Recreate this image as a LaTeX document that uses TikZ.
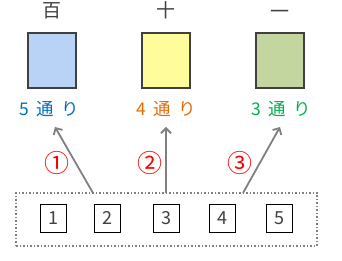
\documentclass[tikz,border=0pt]{standalone}
\usepackage{fontspec}
\setmainfont{Noto Sans CJK JP}
\usepackage{tikz}
\usetikzlibrary{arrows.meta, positioning}

\definecolor{boxgray}{RGB}{64,64,64}
\definecolor{arrowgray}{RGB}{128,128,128}
\definecolor{hblue}{RGB}{184,211,246}
\definecolor{hyellow}{RGB}{255,252,155}
\definecolor{hgreen}{RGB}{196,214,160}
\definecolor{tblue}{RGB}{0,112,192}
\definecolor{torange}{RGB}{228,108,10}
\definecolor{tgreen}{RGB}{0,176,80}

\newcommand{\gap}{\hspace{0.42em}}

\begin{document}
\begin{tikzpicture}[x=1pt, y=1pt, every node/.style={inner sep=0pt, outer sep=0pt}]
    % Define styles for the blocks
    \tikzstyle{place} = [rectangle, minimum width=48pt, minimum height=55pt, draw=boxgray, line width=1.6pt]
    \tikzstyle{head} = [font=\fontsize{19}{19}\selectfont, text=boxgray]
    \tikzstyle{count} = [font=\fontsize{17.5}{17.5}\selectfont]
    \tikzstyle{card} = [rectangle, minimum width=26pt, minimum height=28pt, draw=black, line width=0.9pt, font=\fontsize{18}{18}\selectfont, text=boxgray]
    \tikzstyle{circmark} = [font=\fontsize{25}{25}\selectfont, text=red]
    \tikzstyle{arrow} = [arrowgray, line width=1.8pt, -{Straight Barb[length=5pt, width=10pt]}]

    \useasboundingbox (0,0) rectangle (342,261);

    % Define the three places
    \node (hundreds) [place, fill=hblue] at (52,200.5) {};
    \node (tens) [place, fill=hyellow] at (166,200.5) {};
    \node (ones) [place, fill=hgreen] at (280,200.5) {};

    \node (hundredslabel) [head, above=14pt of hundreds] {百};
    \node (tenslabel) [head, above=14pt of tens] {十};
    \node (oneslabel) [head, above=14pt of ones] {一};

    \node (hundredscount) [count, text=tblue, below=13.5pt of hundreds, xshift=-3pt] {5\gap 通\gap り};
    \node (tenscount) [count, text=torange, below=13.5pt of tens] {4\gap 通\gap り};
    \node (onescount) [count, text=tgreen, below=13.5pt of ones, xshift=1.5pt] {3\gap 通\gap り};

    % Define the cards
    \node (c1) [card] at (53,43) {1};
    \node (c2) [card] at (107,43) {2};
    \node (c3) [card] at (166.5,43) {3};
    \node (c4) [card] at (222,43) {4};
    \node (c5) [card] at (279,43) {5};

    \node (frame) [draw=arrowgray, dotted, line width=1.5pt, minimum width=301pt, minimum height=53pt] at (166.5,41.5) {};

    % Free ends of the arrows
    \coordinate (tip1) at (55,134);
    \coordinate (tip2) at (166,134);
    \coordinate (tip3) at (280,134);

    % Draw arrows
    \draw [arrow] ([xshift=-73.5pt]frame.north) -- (tip1);
    \draw [arrow] ([xshift=-0.5pt]frame.north) -- (tip2);
    \draw [arrow] ([xshift=76.5pt]frame.north) -- (tip3);

    \node (m1) [circmark] at (57,98) {①};
    \node (m2) [circmark] at (150,98) {②};
    \node (m3) [circmark] at (240,98) {③};

\end{tikzpicture}
\end{document}
